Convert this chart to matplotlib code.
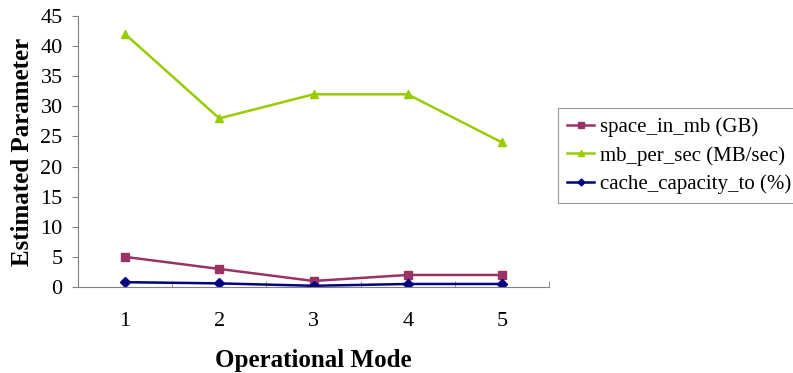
import numpy as np
import matplotlib.pyplot as plt

plt.rcParams['font.family'] = ['Liberation Serif', 'DejaVu Serif']

# operational modes and the three estimated parameters
modes = [1, 2, 3, 4, 5]
space_in_mb = [5, 3, 1, 2, 2]
mb_per_sec = [42, 28, 32, 32, 24]
cache_capacity = [0.8, 0.6, 0.2, 0.5, 0.5]

labels = ['space_in_mb (GB)', 'mb_per_sec (MB/sec)', 'cache_capacity_to (%)']
colors = ['#993366', '#99CC00', '#000080']
markers = ['s', '^', 'D']

fig = plt.figure(figsize=(7.93, 3.73), dpi=100)
ax = fig.add_axes([78 / 793, 1 - 287 / 373, (549 - 78) / 793, (287 - 16) / 373])

series = [space_in_mb, mb_per_sec, cache_capacity]
for vals, lab, col, mk in zip(series, labels, colors, markers):
    ax.plot(modes, vals, color=col, marker=mk, lw=1.8,
            ms=6 if mk != 'D' else 5, label=lab)

ax.set_xlim(0.5, 5.5)
ax.set_ylim(0, 45)
ax.set_yticks(np.arange(0, 46, 5))
ax.set_xticks(modes)
ax.set_xticks(np.arange(0.5, 5.6, 1), minor=True)
ax.tick_params(axis='x', which='major', length=0, pad=18, labelsize=16)
ax.tick_params(axis='x', which='minor', direction='in', length=4,
               color='#808080')
ax.tick_params(axis='y', direction='out', length=4, color='#808080',
               labelsize=16, pad=7)

for side in ['top', 'right']:
    ax.spines[side].set_visible(False)
for side in ['left', 'bottom']:
    ax.spines[side].set_color('#808080')

ax.set_xlabel('Operational Mode', fontsize=18, fontweight='bold', labelpad=13)
ax.set_ylabel('Estimated Parameter', fontsize=18, fontweight='bold')
ax.yaxis.set_label_coords(-0.094, 0.5)

leg = fig.legend(loc='upper left', bbox_to_anchor=(558 / 793, 1 - 108 / 373),
                 fontsize=15, frameon=True, fancybox=False, edgecolor='#808080',
                 handlelength=1.3, handletextpad=0.25, borderpad=0.45,
                 labelspacing=0.42, borderaxespad=0, markerscale=0.7)
leg.get_frame().set_linewidth(0.8)

fig.savefig('out.png', dpi=100)
